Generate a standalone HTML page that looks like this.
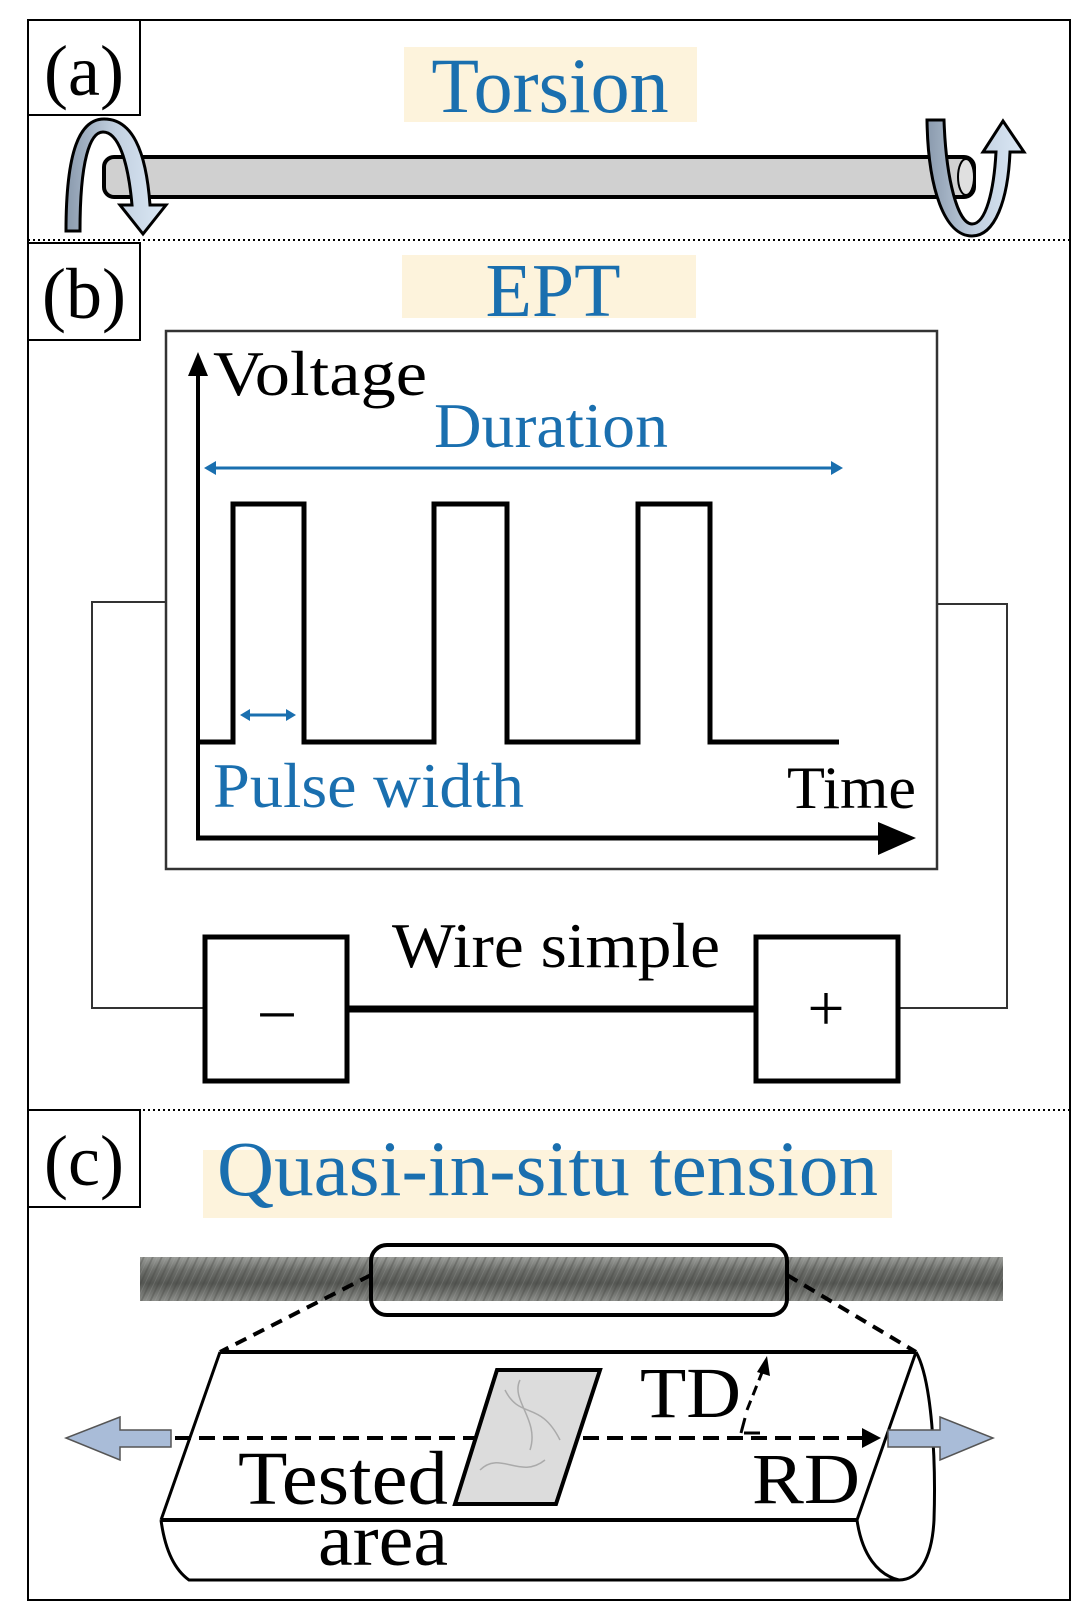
<!DOCTYPE html>
<html><head><meta charset="utf-8"><style>
html,body{margin:0;padding:0;background:#fff}
svg{display:block}
text{font-family:"Liberation Serif",serif}
</style></head><body>
<svg width="1091" height="1622" viewBox="0 0 1091 1622" xmlns="http://www.w3.org/2000/svg">
<defs>
<linearGradient id="ab" x1="0" y1="0" x2="1" y2="0">
<stop offset="0" stop-color="#8a9aad"/><stop offset="0.5" stop-color="#c2d0e0"/><stop offset="1" stop-color="#dbe8f5"/>
</linearGradient>
<linearGradient id="wire" x1="0" y1="0" x2="0" y2="1">
<stop offset="0" stop-color="#9a9c98"/><stop offset="0.3" stop-color="#6c6e6a"/><stop offset="0.6" stop-color="#555753"/><stop offset="1" stop-color="#8a8c88"/>
</linearGradient>
<pattern id="str" width="9" height="46" patternUnits="userSpaceOnUse" patternTransform="skewX(-25)">
<rect width="9" height="46" fill="none"/><rect width="2" height="46" fill="#3e403c" opacity="0.3"/><rect x="5" width="1" height="46" fill="#bbb" opacity="0.2"/>
</pattern>
</defs>

<rect x="28" y="20" width="1042" height="1580" fill="none" stroke="#000" stroke-width="2"/>
<line x1="28" y1="240" x2="1070" y2="240" stroke="#000" stroke-width="2" stroke-dasharray="2,3"/>
<line x1="28" y1="1110" x2="1070" y2="1110" stroke="#000" stroke-width="2" stroke-dasharray="2,3"/>

<!-- (a) -->
<rect x="28" y="20" width="112" height="95" fill="none" stroke="#000" stroke-width="2"/>
<text x="84" y="95" font-size="72" text-anchor="middle">(a)</text>
<rect x="404" y="47" width="293" height="75" fill="#fdf3dc"/>
<text x="550" y="112" font-size="78" fill="#1a6faf" text-anchor="middle">Torsion</text>

<rect x="104" y="157" width="870" height="40" rx="10" fill="#d0d0d0" stroke="#000" stroke-width="4"/>
<ellipse cx="966" cy="177" rx="8" ry="18" fill="#e0e0e0" stroke="#000" stroke-width="2"/>
<path d="M66,231 L80,231 C80,160 90,132 103,132 C118,132 128,160 132,205 L120,205 L143,234 L166,205 L150,205 C146,150 132,119 104,119 C80,119 66,150 66,231 Z" fill="url(#ab)" stroke="#000" stroke-width="3"/>
<path d="M927,120 L944,120 C946,180 958,224 972,224 C986,224 994,190 996,152 L983,152 L1003,121 L1024,152 L1010,152 C1008,200 995,236 972,236 C945,236 928,190 927,120 Z" fill="url(#ab)" stroke="#000" stroke-width="3"/>

<!-- (b) -->
<rect x="28" y="243" width="112" height="97" fill="none" stroke="#000" stroke-width="2"/>
<text x="84" y="318" font-size="72" text-anchor="middle">(b)</text>
<rect x="402" y="255" width="294" height="63" fill="#fdf3dc"/>
<text x="553" y="316" font-size="76" fill="#1a6faf" text-anchor="middle">EPT</text>

<polyline points="166,602 92,602 92,1008 204,1008" fill="none" stroke="#333" stroke-width="2"/>
<polyline points="937,604 1007,604 1007,1008 899,1008" fill="none" stroke="#333" stroke-width="2"/>

<rect x="166" y="331" width="771" height="538" fill="#fff" stroke="#333" stroke-width="2.5"/>
<line x1="198" y1="838" x2="198" y2="372" stroke="#000" stroke-width="4"/>
<path d="M188,376 L198,352 L208,376 Z" fill="#000"/>
<line x1="196" y1="838" x2="884" y2="838" stroke="#000" stroke-width="5"/>
<path d="M878,822 L916,838 L878,855 Z" fill="#000"/>
<text x="213" y="395" font-size="63" textLength="214" lengthAdjust="spacingAndGlyphs">Voltage</text>
<text x="434" y="447" font-size="64" fill="#1a6faf" textLength="234" lengthAdjust="spacingAndGlyphs">Duration</text>
<line x1="210" y1="468" x2="837" y2="468" stroke="#1a6faf" stroke-width="3"/>
<path d="M204,468 L216,461 L216,475Z M843,468 L831,461 L831,475Z" fill="#1a6faf"/>
<polyline points="198,742 233,742 233,504 304,504 304,742 434,742 434,504 507,504 507,742 638,742 638,504 710,504 710,742 839,742" fill="none" stroke="#000" stroke-width="5"/>
<line x1="246" y1="715" x2="290" y2="715" stroke="#1a6faf" stroke-width="3"/>
<path d="M240,715 L250,709 L250,721Z M296,715 L286,709 L286,721Z" fill="#1a6faf"/>
<text x="213" y="807" font-size="63" fill="#1a6faf" textLength="311" lengthAdjust="spacingAndGlyphs">Pulse width</text>
<text x="787" y="808" font-size="60" textLength="129" lengthAdjust="spacingAndGlyphs">Time</text>

<line x1="348" y1="1009" x2="755" y2="1009" stroke="#000" stroke-width="7"/>
<rect x="205" y="937" width="142" height="144" fill="#fff" stroke="#000" stroke-width="5"/>
<rect x="756" y="937" width="142" height="144" fill="#fff" stroke="#000" stroke-width="5"/>
<text x="277" y="1030" font-size="66" text-anchor="middle">–</text>
<text x="826" y="1030" font-size="66" text-anchor="middle">+</text>
<text x="392" y="967" font-size="64" textLength="328" lengthAdjust="spacingAndGlyphs">Wire simple</text>

<!-- (c) -->
<rect x="28" y="1110" width="112" height="97" fill="none" stroke="#000" stroke-width="2"/>
<text x="84" y="1185" font-size="72" text-anchor="middle">(c)</text>
<rect x="203" y="1150" width="689" height="68" fill="#fdf3dc"/>
<text x="217" y="1195" font-size="78" fill="#1a6faf" textLength="661" lengthAdjust="spacingAndGlyphs">Quasi-in-situ tension</text>

<rect x="140" y="1257" width="863" height="44" fill="url(#wire)"/>
<rect x="140" y="1257" width="863" height="44" fill="url(#str)"/>
<rect x="371" y="1245" width="416" height="70" rx="16" fill="none" stroke="#000" stroke-width="4"/>
<line x1="371" y1="1275" x2="220" y2="1352" stroke="#000" stroke-width="4" stroke-dasharray="12,8"/>
<line x1="787" y1="1275" x2="916" y2="1352" stroke="#000" stroke-width="4" stroke-dasharray="12,8"/>

<path d="M220,1352 L916,1352 C930,1380 936,1450 934,1520 C932,1560 920,1580 899,1580 L189,1580 C175,1565 163,1545 161,1520 Z" fill="#fff"/>
<line x1="220" y1="1352" x2="916" y2="1352" stroke="#000" stroke-width="4"/>
<line x1="220" y1="1352" x2="161" y2="1520" stroke="#000" stroke-width="3"/>
<line x1="161" y1="1520" x2="857" y2="1520" stroke="#000" stroke-width="4"/>
<path d="M161,1520 C165,1550 175,1570 189,1580 L899,1580" fill="none" stroke="#000" stroke-width="3"/>
<line x1="916" y1="1352" x2="857" y2="1520" stroke="#000" stroke-width="3"/>
<path d="M916,1352 C932,1380 936,1460 934,1520 C932,1560 918,1580 899,1580 C878,1575 862,1555 857,1520" fill="none" stroke="#000" stroke-width="3"/>

<path d="M171,1430 L120,1430 L120,1417 L66,1438 L120,1460 L120,1447 L171,1447 Z" fill="#a9bcd8" stroke="#555" stroke-width="1.5"/>
<path d="M888,1430 L940,1430 L940,1417 L993,1438 L940,1460 L940,1447 L888,1447 Z" fill="#a9bcd8" stroke="#555" stroke-width="1.5"/>
<line x1="175" y1="1438" x2="866" y2="1438" stroke="#000" stroke-width="4" stroke-dasharray="16,8"/>
<path d="M862,1428 L881,1438 L862,1448Z" fill="#000"/>
<path d="M497,1370 L600,1370 L556,1504 L455,1504 Z" fill="#dcdcdc" stroke="#000" stroke-width="4"/>
<path d="M505,1390 C520,1420 540,1400 560,1440 M480,1470 C500,1450 520,1480 545,1460 M520,1380 C510,1400 540,1420 530,1450" fill="none" stroke="#aaa" stroke-width="1.5"/>
<line x1="741" y1="1433" x2="745" y2="1418" stroke="#000" stroke-width="3"/>
<line x1="744" y1="1433" x2="760" y2="1433" stroke="#000" stroke-width="3"/>
<line x1="747" y1="1410" x2="763" y2="1370" stroke="#000" stroke-width="3" stroke-dasharray="10,6"/>
<path d="M757,1372 L767,1356 L770,1376Z" fill="#000"/>

<text x="238" y="1504" font-size="76" textLength="210" lengthAdjust="spacingAndGlyphs">Tested</text>
<text x="318" y="1565" font-size="74" textLength="130" lengthAdjust="spacingAndGlyphs">area</text>
<text x="640" y="1417" font-size="72" textLength="101" lengthAdjust="spacingAndGlyphs">TD</text>
<text x="752" y="1503" font-size="72" textLength="108" lengthAdjust="spacingAndGlyphs">RD</text>
</svg>
</body></html>
